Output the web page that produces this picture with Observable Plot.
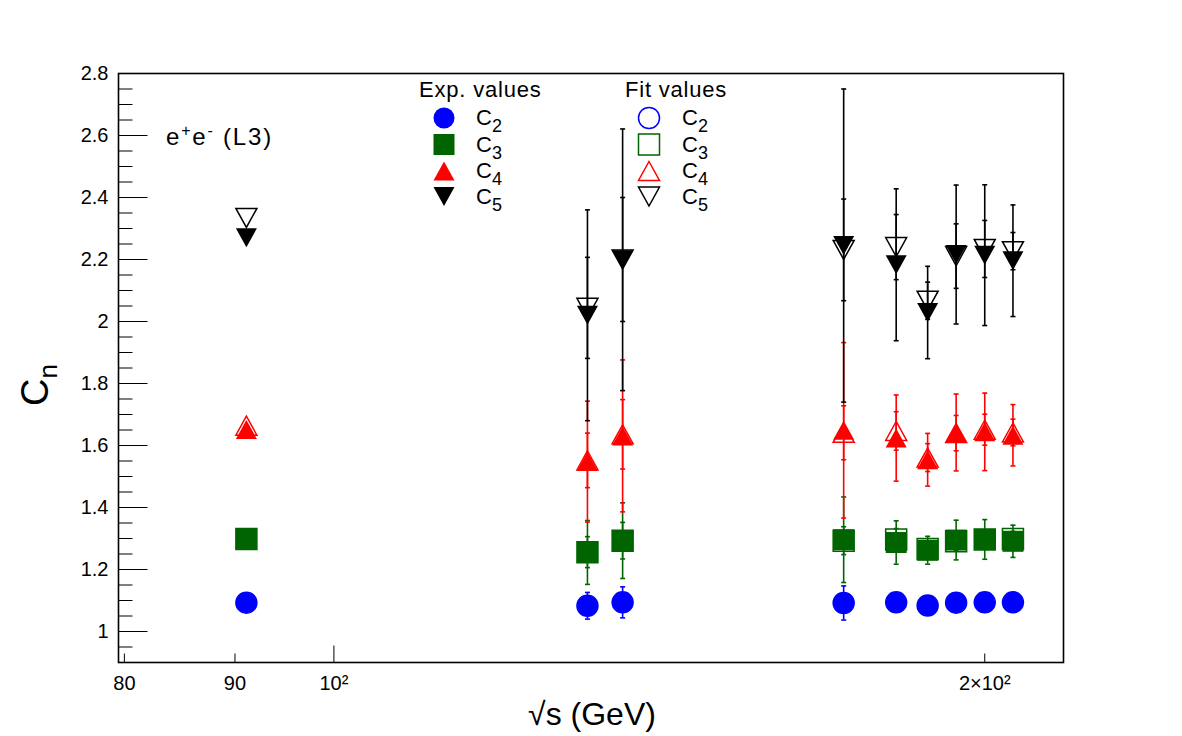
<!DOCTYPE html>
<html><head><meta charset="utf-8">
<script src="https://cdn.jsdelivr.net/npm/d3@7"></script>
<script src="https://cdn.jsdelivr.net/npm/@observablehq/plot@0.6"></script>
<style>body{margin:0;background:#fff;} svg{display:block}</style>
</head><body><div id="chart"></div>
<script>
// sqrt(s) in GeV
const energies = [91.1, 131.0, 136.0, 172.1, 182.0, 188.2, 194.0, 200.0, 206.1];

const c2Exp    = [1.093, 1.083, 1.094, 1.092, 1.094, 1.084, 1.093, 1.094, 1.094];
const c2ExpErr = [0, 0.043, 0.050, 0.055, 0.02, 0.02, 0.02, 0.02, 0.02];
const c2Fit    = [1.093, 1.083, 1.094, 1.092, 1.094, 1.084, 1.093, 1.094, 1.094];
const c2FitErr = [0, 0.01, 0.01, 0.01, 0.01, 0.01, 0.01, 0.01, 0.01];

const c3Exp    = [1.298, 1.255, 1.293, 1.296, 1.287, 1.262, 1.295, 1.297, 1.291];
const c3ExpErr = [0, 0.103, 0.122, 0.138, 0.070, 0.045, 0.064, 0.064, 0.052];
const c3Fit    = [1.298, 1.256, 1.293, 1.293, 1.297, 1.266, 1.291, 1.297, 1.298];
const c3FitErr = [0, 0.050, 0.059, 0.045, 0.035, 0.020, 0.030, 0.030, 0.025];

const c4Exp    = [1.652, 1.548, 1.631, 1.649, 1.624, 1.554, 1.642, 1.644, 1.633];
const c4ExpErr = [0, 0.195, 0.245, 0.283, 0.139, 0.085, 0.124, 0.125, 0.099];
const c4Fit    = [1.664, 1.552, 1.636, 1.641, 1.647, 1.561, 1.640, 1.651, 1.642];
const c4FitErr = [0, 0.088, 0.112, 0.087, 0.062, 0.045, 0.057, 0.050, 0.043];

const c5Exp    = [2.270, 2.020, 2.199, 2.245, 2.183, 2.029, 2.216, 2.214, 2.196];
const c5ExpErr = [0, 0.340, 0.422, 0.505, 0.245, 0.149, 0.224, 0.227, 0.180];
const c5Fit    = [2.334, 2.044, 2.200, 2.231, 2.240, 2.067, 2.211, 2.234, 2.227];
const c5FitErr = [0, 0.163, 0.200, 0.164, 0.105, 0.060, 0.104, 0.092, 0.060];

const seriesNames  = ["C2", "C3", "C4", "C5"];
const seriesSubs   = ["2", "3", "4", "5"];
const seriesColors = ["#0000ff", "#006400", "#ff0000", "#000000"];

const xTicks = [80, 90, 100, 200];
const xTickLabels = ["80", "90", "10²", "2×10²"];
const xMajorTicks = [100];
const yMajorTicks = [1, 1.2, 1.4, 1.6, 1.8, 2, 2.2, 2.4, 2.6, 2.8];
const xDomain = [79.5, 217.5];
const yDomain = [0.9, 2.8];

// ---------- marker shapes ----------
const R = 10.5, TH = 9.5;
const CIRCLE = {draw(c){ c.moveTo(R,0); c.arc(0,0,R,0,2*Math.PI); c.closePath(); }};
const SQUARE = {draw(c){ c.moveTo(-R,-R); c.lineTo(R,-R); c.lineTo(R,R); c.lineTo(-R,R); c.closePath(); }};
const UP     = {draw(c){ c.moveTo(0,-TH); c.lineTo(R,TH); c.lineTo(-R,TH); c.closePath(); }};
const DOWN   = {draw(c){ c.moveTo(-R,-TH); c.lineTo(R,-TH); c.lineTo(0,TH); c.closePath(); }};
const CAP    = {draw(c){ c.moveTo(-2.5,0); c.lineTo(2.5,0); }};
const YMAJ   = {draw(c){ c.moveTo(0,0); c.lineTo(29,0); }};
const YMIN   = {draw(c){ c.moveTo(0,0); c.lineTo(14,0); }};
const XMAJ   = {draw(c){ c.moveTo(0,0); c.lineTo(0,-17); }};
const XMIN   = {draw(c){ c.moveTo(0,0); c.lineTo(0,-9); }};
const shapes = [CIRCLE, SQUARE, UP, DOWN];

const table = [
  [c2Exp, c2ExpErr, c2Fit, c2FitErr],
  [c3Exp, c3ExpErr, c3Fit, c3FitErr],
  [c4Exp, c4ExpErr, c4Fit, c4FitErr],
  [c5Exp, c5ExpErr, c5Fit, c5FitErr]
];

const FONT = "'Liberation Sans', Arial, sans-serif";
const marks = [];
// axis ticks (inside, ROOT style)
const yMinorTicks = d3.range(0.95, 2.8, 0.05).map(v => +v.toFixed(2)).filter(v => !yMajorTicks.some(m => Math.abs(m - v) < 1e-6));
marks.push(Plot.dot(yMajorTicks, {x: () => xDomain[0], y: d => d, symbol: YMAJ, fill: "none", stroke: "black", strokeWidth: 1}));
marks.push(Plot.dot(yMinorTicks, {x: () => xDomain[0], y: d => d, symbol: YMIN, fill: "none", stroke: "black", strokeWidth: 1}));
marks.push(Plot.dot(xTicks, {x: d => d, y: () => yDomain[0], symbol: d => xMajorTicks.includes(d) ? XMAJ : XMIN, fill: "none", stroke: "black", strokeWidth: 1}));

table.forEach(([ev, ee, fv, fe], k) => {
  const color = seriesColors[k];
  const rowsExp = energies.map((E, i) => ({E, v: ev[i], e: ee[i]}));
  const rowsFit = energies.map((E, i) => ({E, v: fv[i], e: fe[i]}));
  for (const rows of [rowsExp, rowsFit]) {
    const withErr = rows.filter(d => d.e > 0);
    marks.push(Plot.ruleX(withErr, {x: "E", y1: d => d.v - d.e, y2: d => d.v + d.e, stroke: color, strokeWidth: 1.6}));
    const caps = withErr.flatMap(d => [{E: d.E, y: d.v - d.e}, {E: d.E, y: d.v + d.e}]);
    marks.push(Plot.dot(caps, {x: "E", y: "y", symbol: CAP, fill: "none", stroke: color, strokeWidth: 1.6}));
  }
  marks.push(Plot.dot(rowsExp, {x: "E", y: "v", symbol: shapes[k], fill: color, stroke: "none"}));
  marks.push(Plot.dot(rowsFit, {x: "E", y: "v", symbol: shapes[k], fill: "none", stroke: color, strokeWidth: 1.5}));
});

marks.push(Plot.axisY({ticks: yMajorTicks, tickSize: 0, tickPadding: 10, fontSize: 20, tickFormat: d3.format("~g"), label: null}));
marks.push(Plot.text(xTicks, {x: d => d, frameAnchor: "bottom", dy: 27, text: (d, i) => xTickLabels[i], fontSize: 20, fill: "black"}));
marks.push(Plot.frame({stroke: "black", strokeWidth: 1.6}));

const chart = Plot.plot({
  width: 1182, height: 736,
  marginLeft: 118, marginRight: 119, marginTop: 73, marginBottom: 74,
  x: {type: "log", domain: xDomain, axis: null},
  y: {type: "linear", domain: yDomain, axis: null},
  style: {fontFamily: FONT, color: "black", background: "white", overflow: "visible"},
  marks
});
document.getElementById("chart").appendChild(chart);

// ---------- annotations ----------
const svg = d3.select(chart);
const txt = (x, y, size, anchor = "start") => svg.append("text").attr("x", x).attr("y", y)
  .attr("font-family", FONT).attr("font-size", size).attr("text-anchor", anchor).attr("fill", "black");

// x title
txt(592, 725, 32, "middle").text("√s (GeV)");
// y title
const yt = svg.append("text").attr("transform", "translate(48,385) rotate(-90)")
  .attr("font-family", FONT).attr("font-size", 38).attr("text-anchor", "middle");
yt.append("tspan").text("C");
yt.append("tspan").attr("dy", 9).attr("font-size", 26).text("n");

// e+e- (L3)
const ee = txt(166, 145, 24).attr("letter-spacing", 1.8);
ee.append("tspan").text("e");
ee.append("tspan").attr("dy", -9).attr("font-size", 16).text("+");
ee.append("tspan").attr("dy", 9).text("e");
ee.append("tspan").attr("dy", -9).attr("font-size", 16).text("-");
ee.append("tspan").attr("dy", 9).text(" (L3)");

// legends
txt(419, 97, 22).attr("letter-spacing", 0.8).text("Exp. values");
txt(625, 97, 22).attr("letter-spacing", 0.8).text("Fit values");
const rowY = [118, 144.5, 171, 196.5];
seriesNames.forEach((name, k) => {
  const y = rowY[k];
  svg.append("path").attr("transform", `translate(444,${y})`).attr("d", d3.symbol(shapes[k])())
    .attr("fill", seriesColors[k]);
  svg.append("path").attr("transform", `translate(649,${y})`).attr("d", d3.symbol(shapes[k])())
    .attr("fill", "none").attr("stroke", seriesColors[k]).attr("stroke-width", 1.5);
  for (const lx of [476, 682]) {
    const t = txt(lx, y + 7, 22);
    t.append("tspan").text("C");
    t.append("tspan").attr("dy", 7).attr("font-size", 18).text(seriesSubs[k]);
  }
});
</script>
</body></html>
